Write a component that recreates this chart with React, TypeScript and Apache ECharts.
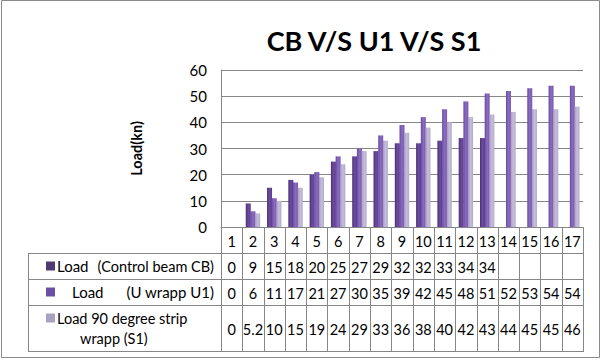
import React, { useEffect, useRef } from "react";
import * as echarts from "echarts";

const categories = ["1", "2", "3", "4", "5", "6", "7", "8", "9", "10", "11", "12", "13", "14", "15", "16", "17"];
const cbLoad: (number | null)[] = [0, 9, 15, 18, 20, 25, 27, 29, 32, 32, 33, 34, 34, null, null, null, null];
const u1Load: (number | null)[] = [0, 6, 11, 17, 21, 27, 30, 35, 39, 42, 45, 48, 51, 52, 53, 54, 54];
const s1Load: (number | null)[] = [0, 5.2, 10, 15, 19, 24, 29, 33, 36, 38, 40, 42, 43, 44, 45, 45, 46];
const seriesNames = ["Load (Control beam CB)", "Load (U wrapp U1)", "Load 90 degree strip wrapp (S1)"];
const titleText = "CB V/S U1 V/S S1";
const yAxisName = "Load(kn)";
const yMin = 0;
const yMax = 60;
const yInterval = 10;

const FONT = "Lato, 'Open Sans', sans-serif";
const GRID_L = 221;
const GRID_R = 583;
const GRID_T = 70;
const GRID_B = 227;
const ROWS = [227, 253, 279, 305, 351];
const TABLE_L = 28;
const LINE = "#868686";
const COLORS = [
  ["#4a2f78", "#6c4c9e", "#5a3c8a"],
  ["#6a4aa0", "#8a6cc0", "#7657ad"],
  ["#a49ac0", "#c6bedb", "#b3aacc"],
];
const KEY_COLORS = ["#4f3a74", "#6e4ea3", "#aaa1c0"];

function grad(c: string[]) {
  return new echarts.graphic.LinearGradient(0, 0, 1, 0, [
    { offset: 0, color: c[0] },
    { offset: 0.5, color: c[1] },
    { offset: 1, color: c[2] },
  ]);
}

function fmt(v: number | null) {
  return v === null || v === undefined ? "" : String(v);
}

export default function App() {
  const ref = useRef<HTMLDivElement>(null);
  useEffect(() => {
    if (!ref.current) return;
    const chart = echarts.init(ref.current, undefined, { renderer: "svg" });
    const n = categories.length;
    const colW = (GRID_R - GRID_L) / n;
    const g: any[] = [];
    const hl = (x1: number, x2: number, y: number) =>
      g.push({ type: "line", shape: { x1, y1: y + 0.5, x2, y2: y + 0.5 }, style: { stroke: LINE, lineWidth: 1 }, silent: true });
    const vl = (x: number, y1: number, y2: number) =>
      g.push({ type: "line", shape: { x1: Math.round(x) + 0.5, y1, x2: Math.round(x) + 0.5, y2 }, style: { stroke: LINE, lineWidth: 1 }, silent: true });
    // outer border
    g.push({ type: "rect", shape: { x: 1.5, y: 0.5, width: 598, height: 357 }, style: { fill: "none", stroke: "#8a8a8a", lineWidth: 1 }, silent: true });
    // table grid
    for (let r = 1; r < ROWS.length; r++) hl(TABLE_L, GRID_R, ROWS[r]);
    vl(TABLE_L, ROWS[1], ROWS[4] + 1);
    for (let i = 0; i <= n; i++) vl(GRID_L + i * colW, ROWS[0], ROWS[4] + 1);
    const txt = (text: string, x: number, y: number, align = "center", size = 14.5) =>
      g.push({ type: "text", x, y, style: { text, fill: "#000", font: `${size}px ${FONT}`, textAlign: align, textVerticalAlign: "middle" }, silent: true });
    // header
    categories.forEach((c, i) => txt(c, GRID_L + (i + 0.5) * colW, (ROWS[0] + ROWS[1]) / 2 + 1));
    const rowsData = [cbLoad, u1Load, s1Load];
    rowsData.forEach((arr, r) => {
      const yc = (ROWS[r + 1] + ROWS[r + 2]) / 2 + 1;
      arr.forEach((v, i) => txt(fmt(v), GRID_L + (i + 0.5) * colW, yc));
    });
    // row labels
    const keys = [266, 292, 318];
    keys.forEach((y, r) => {
      g.push({ type: "rect", shape: { x: 46, y: y - 4.5, width: 9, height: 9 }, style: { fill: KEY_COLORS[r] }, silent: true });
    });
    const [p1a, p1b] = ["Load", seriesNames[0].slice(5)];
    txt(p1a, 57, 266, "left", 15);
    txt(p1b, 214, 266, "right", 14.5);
    const [p2a, p2b] = ["Load", seriesNames[1].slice(5)];
    txt(p2a, 72, 292, "left", 15);
    txt(p2b, 214, 292, "right", 15);
    const s3 = seriesNames[2];
    txt(s3.slice(0, 20), 57, 318, "left", 14.5);
    txt(s3.slice(21), 80, 338, "left", 14.5);

    chart.setOption({
      animation: false,
      backgroundColor: "#fff",
      title: {
        text: titleText,
        left: 369,
        top: 22,
        textAlign: "center",
        textStyle: { fontFamily: FONT, fontSize: 27, fontWeight: "bold", color: "#000" },
      },
      grid: { left: GRID_L, top: GRID_T, width: GRID_R - GRID_L, height: GRID_B - GRID_T, containLabel: false },
      xAxis: {
        type: "category",
        data: categories,
        axisLine: { show: true, lineStyle: { color: LINE } },
        axisTick: { show: false },
        axisLabel: { show: false },
      },
      yAxis: {
        type: "value",
        min: yMin,
        max: yMax,
        interval: yInterval,
        name: yAxisName,
        nameLocation: "middle",
        nameGap: 77,
        nameRotate: 90,
        nameTextStyle: { fontFamily: FONT, fontSize: 14.5, fontWeight: "bold", color: "#000" },
        axisLine: { show: true, lineStyle: { color: LINE } },
        axisTick: { show: false },
        axisLabel: { fontFamily: FONT, fontSize: 15, color: "#000", margin: 14 },
        splitLine: { show: true, lineStyle: { color: LINE, width: 1 } },
      },
      series: [cbLoad, u1Load, s1Load].map((d, i) => ({
        type: "bar",
        name: seriesNames[i],
        data: d,
        barWidth: 5,
        barGap: "-6%",
        itemStyle: { color: grad(COLORS[i]) },
      })),
      graphic: g,
    });
    return () => chart.dispose();
  }, []);
  return <div ref={ref} style={{ position: "absolute", left: 0, top: 0, width: 602, height: 360 }} />;
}
